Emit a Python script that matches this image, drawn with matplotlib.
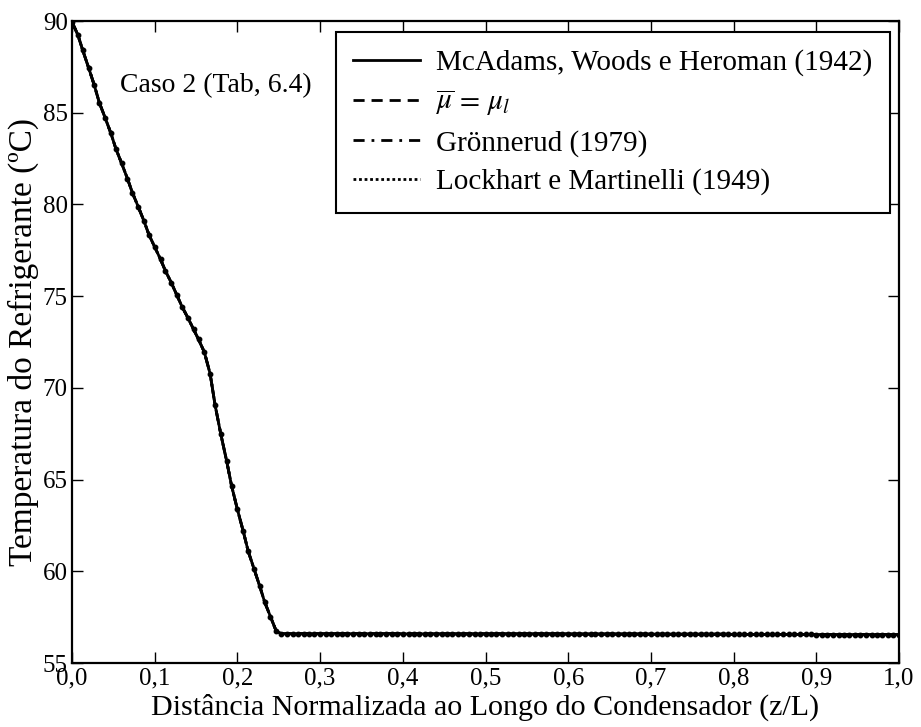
import matplotlib
matplotlib.use("Agg")
import matplotlib.pyplot as plt

plt.rcParams['font.family'] = ['Liberation Serif', 'DejaVu Serif']
plt.rcParams['mathtext.fontset'] = 'stix'

# posicao normalizada dos nos (z/L)
z_nodes = [
    0.000, 0.007, 0.013, 0.020, 0.027, 0.033, 0.040, 0.047, 0.053, 0.060, 0.067, 0.073, 0.080, 0.087, 0.093,
    0.100, 0.107, 0.113, 0.120, 0.127, 0.133, 0.140, 0.147, 0.153, 0.160, 0.167, 0.173, 0.180, 0.187, 0.193,
    0.200, 0.207, 0.213, 0.220, 0.227, 0.233, 0.240, 0.247, 0.253, 0.260, 0.267, 0.273, 0.280, 0.287, 0.293,
    0.300, 0.307, 0.313, 0.320, 0.327, 0.333, 0.340, 0.347, 0.353, 0.360, 0.367, 0.373, 0.380, 0.387, 0.393,
    0.400, 0.407, 0.413, 0.420, 0.427, 0.433, 0.440, 0.447, 0.453, 0.460, 0.467, 0.473, 0.480, 0.487, 0.493,
    0.500, 0.507, 0.513, 0.520, 0.527, 0.533, 0.540, 0.547, 0.553, 0.560, 0.567, 0.573, 0.580, 0.587, 0.593,
    0.600, 0.607, 0.613, 0.620, 0.627, 0.633, 0.640, 0.647, 0.653, 0.660, 0.667, 0.673, 0.680, 0.687, 0.693,
    0.700, 0.707, 0.713, 0.720, 0.727, 0.733, 0.740, 0.747, 0.753, 0.760, 0.767, 0.773, 0.780, 0.787, 0.793,
    0.800, 0.807, 0.813, 0.820, 0.827, 0.833, 0.840, 0.847, 0.853, 0.860, 0.867, 0.873, 0.880, 0.887, 0.893,
    0.900, 0.907, 0.913, 0.920, 0.927, 0.933, 0.940, 0.947, 0.953, 0.960, 0.967, 0.973, 0.980, 0.987, 0.993,
    1.000,
]

# temperatura do refrigerante (C) - McAdams, Woods e Heroman (1942)
temp_mcadams = [
    89.95, 89.25, 88.40, 87.46, 86.49, 85.55, 84.73, 83.88, 83.04, 82.24, 81.41, 80.64, 79.88, 79.10, 78.35,
    77.68, 77.01, 76.37, 75.74, 75.04, 74.43, 73.83, 73.19, 72.64, 71.95, 70.77, 69.06, 67.46, 66.01, 64.65,
    63.37, 62.19, 61.10, 60.14, 59.19, 58.32, 57.52, 56.73, 56.60, 56.60, 56.60, 56.60, 56.60, 56.60, 56.60,
    56.60, 56.60, 56.60, 56.60, 56.60, 56.60, 56.60, 56.60, 56.60, 56.60, 56.60, 56.60, 56.60, 56.60, 56.60,
    56.59, 56.59, 56.59, 56.59, 56.59, 56.59, 56.59, 56.59, 56.59, 56.59, 56.59, 56.59, 56.59, 56.59, 56.59,
    56.59, 56.59, 56.59, 56.59, 56.59, 56.59, 56.59, 56.59, 56.59, 56.59, 56.59, 56.59, 56.59, 56.59, 56.59,
    56.58, 56.58, 56.58, 56.58, 56.58, 56.58, 56.58, 56.58, 56.58, 56.58, 56.58, 56.58, 56.58, 56.58, 56.58,
    56.57, 56.57, 56.57, 56.57, 56.57, 56.57, 56.57, 56.57, 56.57, 56.57, 56.57, 56.57, 56.57, 56.57, 56.57,
    56.56, 56.56, 56.56, 56.56, 56.56, 56.56, 56.56, 56.56, 56.56, 56.56, 56.56, 56.56, 56.56, 56.56, 56.56,
    56.55, 56.55, 56.55, 56.55, 56.55, 56.55, 56.55, 56.55, 56.55, 56.55, 56.55, 56.55, 56.55, 56.55, 56.55,
    56.55,
]
# as outras correlacoes coincidem com a de McAdams na escala do grafico
temp_mu_l = temp_mcadams
temp_gronnerud = temp_mcadams
temp_lockhart = temp_mcadams

series_labels = ['McAdams, Woods e Heroman (1942)',
                 r'$\overline{\mu}\,=\,\mu_l$',
                 'Grönnerud (1979)',
                 'Lockhart e Martinelli (1949)']
x_ticks = [0.0, 0.1, 0.2, 0.3, 0.4, 0.5, 0.6, 0.7, 0.8, 0.9, 1.0]
x_ticklabels = ['0,0', '0,1', '0,2', '0,3', '0,4', '0,5', '0,6', '0,7', '0,8', '0,9', '1,0']
y_ticks = [55, 60, 65, 70, 75, 80, 85, 90]


fig = plt.figure(figsize=(9.21, 7.27), dpi=100)
ax = fig.add_axes([0.0782, 0.088, 0.8979, 0.8831])

styles = ['-', (0, (4, 2.5)), (0, (4, 2.5, 1, 2.5)), (0, (1, 1))]
for temp, lab, ls in zip([temp_mcadams, temp_mu_l, temp_gronnerud, temp_lockhart], series_labels, styles):
    ax.plot(z_nodes, temp, color='black', lw=2.0, ls=ls, label=lab)
# nos da malha
ax.plot(z_nodes, temp_mcadams, ls='none', marker='o', ms=3.2, color='black')

ax.set_xlim(0, 1.0)
ax.set_ylim(55, 90)
ax.set_xticks(x_ticks)
ax.set_xticklabels(x_ticklabels)
ax.set_yticks(y_ticks)
ax.tick_params(direction='in', length=8, width=1.0, top=True, right=True,
               labelsize=18, pad=3)
for sp in ax.spines.values():
    sp.set_linewidth(1.6)

ax.set_xlabel('Distância Normalizada ao Longo do Condensador (z/L)', fontsize=21.6, labelpad=3)
ax.set_ylabel('Temperatura do Refrigerante (ºC)', fontsize=24, labelpad=3)

ax.text(0.058, 86.5, 'Caso 2 (Tab, 6.4)', fontsize=20, ha='left', va='center')

leg = ax.legend(loc='upper left', bbox_to_anchor=(0.319, 0.983), borderaxespad=0,
                fontsize=21, frameon=True, fancybox=False, edgecolor='black',
                framealpha=1, handlelength=2.3, handletextpad=0.55,
                labelspacing=0.4, borderpad=0.6)
leg.get_frame().set_linewidth(1.5)

fig.savefig('out.png', dpi=100)
